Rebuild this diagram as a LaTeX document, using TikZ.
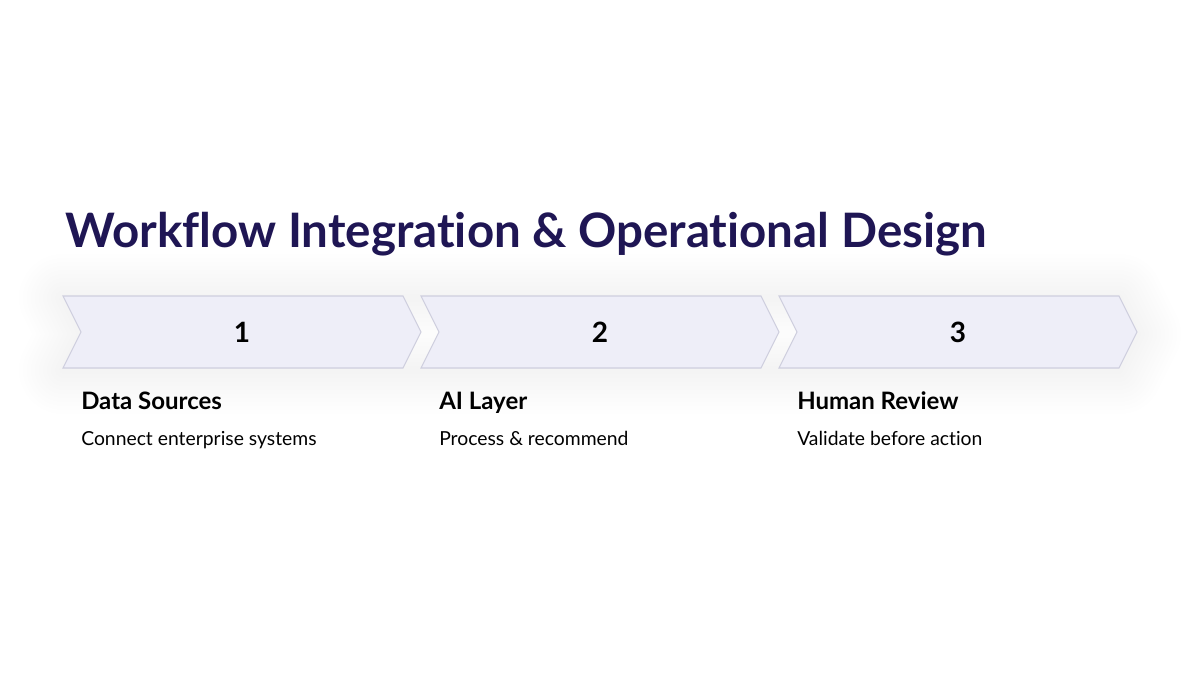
\documentclass[tikz,border=0pt]{standalone}
\usepackage{fontspec}
\setmainfont{Lato}[Ligatures={NoCommon}]

\definecolor{titlenavy}{RGB}{31,22,84}
\definecolor{chevfill}{RGB}{238,238,248}
\definecolor{chevline}{RGB}{206,206,222}

\begin{document}
\begin{tikzpicture}[x=0.75pt,y=0.75pt,yscale=-1,xscale=1]

\useasboundingbox (0,0) rectangle (1200,675);
\fill [white] (0,0) rectangle (1200,675);

% Title
\draw (65,247) node (title) [anchor=base west, text=titlenavy, font=\fontsize{35.6}{42}\selectfont\bfseries, inner sep=0pt] {Workflow Integration \& Operational Design};

% Soft shadow round the chevron row
\foreach \w in {6,12,...,66} {
  \draw [black, opacity=0.0032, line width=\w, line join=round]
    (63,298) -- (1119,298) -- (1137,334) -- (1119,370) -- (63,370) -- (81,334) -- cycle;
}

% Stage chevrons
\foreach \x/\n in {63/1,421/2,779/3} {
  \draw [fill=chevfill, draw=chevline, line width=0.8]
    (\x,296) -- (\x+340,296) -- (\x+358,332) -- (\x+340,368) -- (\x,368) -- (\x+18,332) -- cycle;
  \draw (\x+179,332) node (num\n) [font=\fontsize{21}{24}\selectfont\bfseries, inner sep=0pt] {\n};
}

% Stage labels
\draw (81,409) node (src) [anchor=base west, font=\fontsize{18}{22}\selectfont\bfseries, inner sep=0pt] {Data Sources};
\draw (439,409) node (ai) [anchor=base west, font=\fontsize{18}{22}\selectfont\bfseries, inner sep=0pt] {AI Layer};
\draw (797,409) node (human) [anchor=base west, font=\fontsize{18}{22}\selectfont\bfseries, inner sep=0pt] {Human Review};

% Stage descriptions
\draw (81,445) node (srcdesc) [anchor=base west, font=\fontsize{14.5}{17}\selectfont, inner sep=0pt] {Connect enterprise systems};
\draw (439,445) node (aidesc) [anchor=base west, font=\fontsize{14.5}{17}\selectfont, inner sep=0pt] {Process \& recommend};
\draw (797,445) node (humandesc) [anchor=base west, font=\fontsize{14.5}{17}\selectfont, inner sep=0pt] {Validate before action};

\end{tikzpicture}
\end{document}
